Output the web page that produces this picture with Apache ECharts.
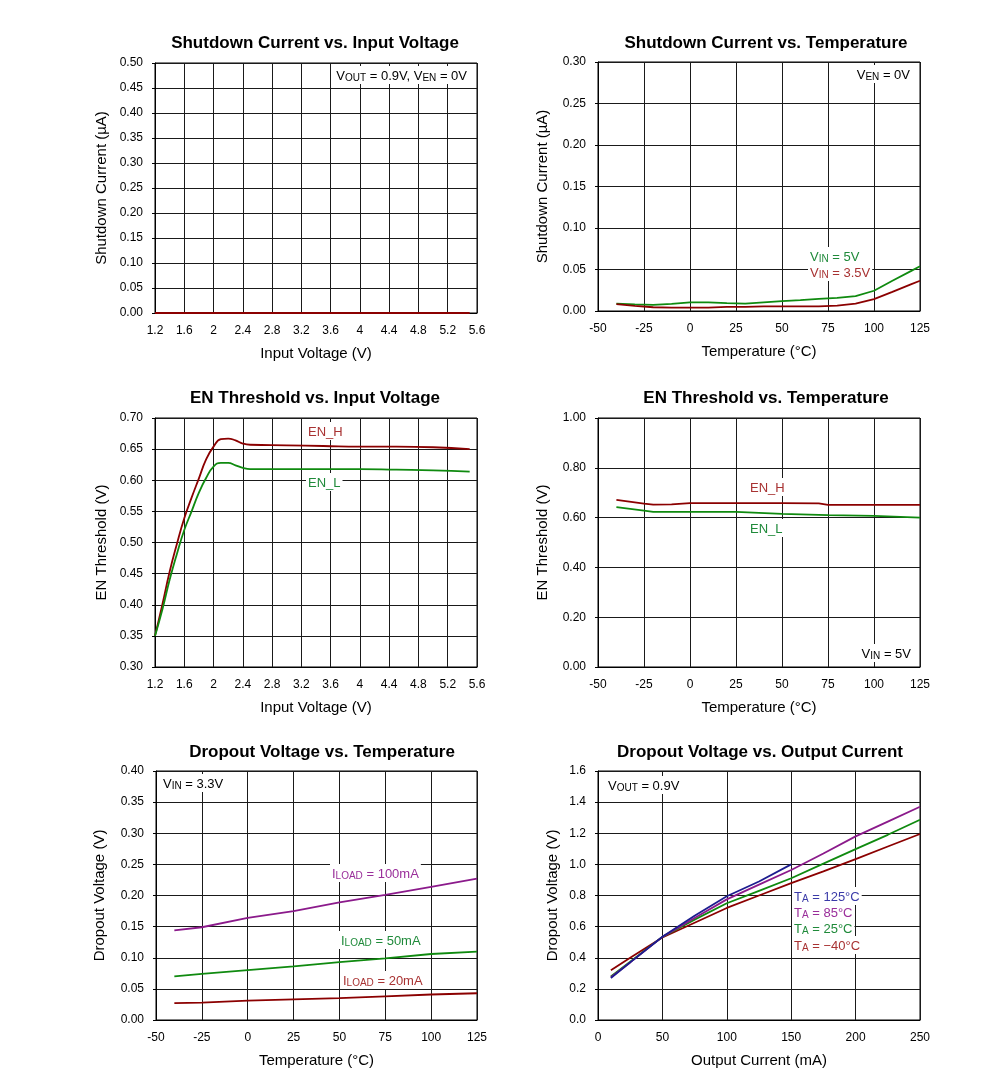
<!DOCTYPE html>
<html>
<head>
<meta charset="utf-8">
<script src="https://cdn.jsdelivr.net/npm/echarts@6/dist/echarts.min.js"></script>
<style>
html,body{margin:0;padding:0;background:#fff;}
#chart{width:991px;height:1082px;}
</style>
</head>
<body>
<div id="chart"></div>
<script>
// ---------- Data ----------
// Chart 1: Shutdown Current vs. Input Voltage
const sdVinX = [1.2, 1.6, 2.0, 2.4, 2.8, 3.2, 3.6, 4.0, 4.4, 4.8, 5.2, 5.5];
const sdVinI = [0, 0, 0, 0, 0, 0, 0, 0, 0, 0, 0, 0];

// Chart 2: Shutdown Current vs. Temperature
const sdTempX = [-40, -30, -20, -10, 0, 10, 20, 30, 40, 50, 60, 70, 80, 90, 100, 110, 120, 125];
const sdTemp5V = [0.009, 0.008, 0.0075, 0.0085, 0.0104, 0.0104, 0.0095, 0.009, 0.0105, 0.012, 0.013, 0.0145, 0.0158, 0.018, 0.0244, 0.0365, 0.048, 0.054];
const sdTemp35V = [0.0084, 0.0062, 0.0045, 0.004, 0.004, 0.004, 0.005, 0.005, 0.0055, 0.0055, 0.0055, 0.0056, 0.0065, 0.0088, 0.0144, 0.023, 0.032, 0.0364];

// Chart 3: EN Threshold vs. Input Voltage
const enVinX = [1.2, 1.3, 1.4, 1.5, 1.6, 1.7, 1.8, 1.9, 2.0, 2.1, 2.2, 2.3, 2.4, 2.5, 3.0, 3.5, 4.0, 4.5, 5.0, 5.5];
const enVinH = [0.35, 0.40, 0.453, 0.498, 0.539, 0.572, 0.603, 0.634, 0.654, 0.666, 0.667, 0.664, 0.659, 0.657, 0.656, 0.655, 0.654, 0.654, 0.653, 0.650];
const enVinL = [0.35, 0.392, 0.44, 0.482, 0.52, 0.55, 0.58, 0.604, 0.622, 0.628, 0.628, 0.624, 0.62, 0.618, 0.618, 0.618, 0.618, 0.617, 0.616, 0.614];

// Chart 4: EN Threshold vs. Temperature
const enTempX = [-40, -25, -20, -10, 0, 25, 50, 70, 75, 100, 125];
const enTempH = [0.671, 0.656, 0.652, 0.653, 0.658, 0.658, 0.658, 0.657, 0.651, 0.651, 0.651];
const enTempL = [0.642, 0.628, 0.623, 0.623, 0.623, 0.623, 0.615, 0.611, 0.610, 0.607, 0.600];

// Chart 5: Dropout Voltage vs. Temperature
const doTempX = [-40, -25, 0, 25, 50, 75, 100, 125];
const doTemp100 = [0.144, 0.149, 0.164, 0.175, 0.189, 0.201, 0.214, 0.227];
const doTemp50 = [0.070, 0.074, 0.080, 0.086, 0.093, 0.099, 0.106, 0.110];
const doTemp20 = [0.027, 0.028, 0.031, 0.033, 0.035, 0.038, 0.041, 0.043];

// Chart 6: Dropout Voltage vs. Output Current
const doIoutX = [10, 25, 50, 75, 100, 125, 150, 175, 200, 225, 250];
const doIout125 = [0.27, 0.37, 0.535, 0.67, 0.795, 0.89, 1.00];
const doIout85 = [0.275, 0.37, 0.534, 0.655, 0.775, 0.87, 0.964, 1.07, 1.18, 1.275, 1.37];
const doIout25 = [0.28, 0.375, 0.534, 0.645, 0.75, 0.83, 0.911, 1.005, 1.098, 1.19, 1.287];
const doIoutM40 = [0.32, 0.40, 0.53, 0.625, 0.72, 0.80, 0.879, 0.955, 1.034, 1.115, 1.195];

// ---------- Helpers ----------
const zip = (xs, ys) => ys.map((y, i) => [xs[i], y]);
const FONT = 'Liberation Sans, Arial, sans-serif';
const C_RED = '#8b0000', C_GREEN = '#0f8a0f', C_PURPLE = '#8b1a8b', C_BLUE = '#1c1c8f';
const T_RED = '#a83232', T_GREEN = '#1f8a3a', T_PURPLE = '#9a2e9a', T_BLUE = '#3a3aa8';

const grids = [
  {left: 155, top: 63, width: 322, height: 250},
  {left: 598, top: 62, width: 322, height: 249},
  {left: 155, top: 418, width: 322, height: 249},
  {left: 598, top: 418, width: 322, height: 249},
  {left: 156, top: 771, width: 321, height: 249},
  {left: 598, top: 771, width: 322, height: 249}
].map(g => Object.assign({show: true, borderColor: '#000', borderWidth: 1, containLabel: false}, g));

function xAx(gi, name, min, max, interval, fmt) {
  return {
    type: 'value', gridIndex: gi, min, max, interval, name,
    nameLocation: 'middle', nameGap: 33,
    nameTextStyle: {fontFamily: FONT, fontSize: 15, color: '#000'},
    axisLine: {show: true, onZero: false, lineStyle: {color: '#000', width: 1}},
    axisTick: {show: false},
    axisLabel: {fontFamily: FONT, fontSize: 12, color: '#000', margin: 12, formatter: fmt},
    splitLine: {show: true, lineStyle: {color: '#1a1a1a', width: 1}}
  };
}
function yAx(gi, name, min, max, interval, dec, gap) {
  return {
    type: 'value', gridIndex: gi, min, max, interval, name,
    nameLocation: 'middle', nameGap: gap,
    nameTextStyle: {fontFamily: FONT, fontSize: 15, color: '#000'},
    axisLine: {show: true, onZero: false, lineStyle: {color: '#000', width: 1}},
    axisTick: {show: true, length: 3, lineStyle: {color: '#000'}},
    axisLabel: {fontFamily: FONT, fontSize: 12, color: '#000', margin: 12, formatter: v => v.toFixed(dec)},
    splitLine: {show: true, lineStyle: {color: '#1a1a1a', width: 1}}
  };
}
const numFmt = v => String(Math.round(v * 100) / 100);

function line(gi, data, color, smooth) {
  return {
    type: 'line', xAxisIndex: gi, yAxisIndex: gi, data, showSymbol: false, symbol: 'none',
    smooth: smooth || false, lineStyle: {color, width: 1.8}, animation: false, silent: true
  };
}

function titleAt(text, x, y) {
  return {text, left: x, top: y, textAlign: 'center',
    textStyle: {fontFamily: FONT, fontSize: 17, fontWeight: 'bold', color: '#000'}};
}

const rich = (color) => ({
  n: {fontFamily: FONT, fontSize: 13, color, verticalAlign: 'bottom', lineHeight: 16},
  s: {fontFamily: FONT, fontSize: 10, color, verticalAlign: 'bottom', lineHeight: 14}
});
function note(x, y, text, color, align) {
  return {
    type: 'text', x, y, z: 100,
    style: {text, rich: rich(color), align: align || 'left', verticalAlign: 'middle',
      backgroundColor: '#fff', padding: [1, 2, 1, 2], fill: color, font: '13px ' + FONT}
  };
}

const option = {
  backgroundColor: '#fff',
  animation: false,
  title: [
    titleAt('Shutdown Current vs. Input Voltage', 310, 30),
    titleAt('Shutdown Current vs. Temperature', 761, 30),
    titleAt('EN Threshold vs. Input Voltage', 310, 385),
    titleAt('EN Threshold vs. Temperature', 761, 385),
    titleAt('Dropout Voltage vs. Temperature', 317, 739),
    titleAt('Dropout Voltage vs. Output Current', 755, 739)
  ],
  grid: grids,
  xAxis: [
    xAx(0, 'Input Voltage (V)', 1.2, 5.6, 0.4, numFmt),
    xAx(1, 'Temperature (°C)', -50, 125, 25, numFmt),
    xAx(2, 'Input Voltage (V)', 1.2, 5.6, 0.4, numFmt),
    xAx(3, 'Temperature (°C)', -50, 125, 25, numFmt),
    xAx(4, 'Temperature (°C)', -50, 125, 25, numFmt),
    xAx(5, 'Output Current (mA)', 0, 250, 50, numFmt)
  ],
  yAxis: [
    yAx(0, 'Shutdown Current (µA)', 0, 0.5, 0.05, 2, 46),
    yAx(1, 'Shutdown Current (µA)', 0, 0.3, 0.05, 2, 48),
    yAx(2, 'EN Threshold (V)', 0.3, 0.7, 0.05, 2, 46),
    yAx(3, 'EN Threshold (V)', 0, 1.0, 0.2, 2, 48),
    yAx(4, 'Dropout Voltage (V)', 0, 0.4, 0.05, 2, 49),
    yAx(5, 'Dropout Voltage (V)', 0, 1.6, 0.2, 1, 38)
  ],
  series: [
    line(0, zip(sdVinX, sdVinI), C_RED),
    line(1, zip(sdTempX, sdTemp5V), C_GREEN),
    line(1, zip(sdTempX, sdTemp35V), C_RED),
    line(2, zip(enVinX, enVinH), C_RED, 0.5),
    line(2, zip(enVinX, enVinL), C_GREEN, 0.5),
    line(3, zip(enTempX, enTempH), C_RED),
    line(3, zip(enTempX, enTempL), C_GREEN),
    line(4, zip(doTempX, doTemp100), C_PURPLE),
    line(4, zip(doTempX, doTemp50), C_GREEN),
    line(4, zip(doTempX, doTemp20), C_RED),
    line(5, zip(doIoutX, doIoutM40), C_RED),
    line(5, zip(doIoutX, doIout25), C_GREEN),
    line(5, zip(doIoutX, doIout85), C_PURPLE),
    line(5, zip(doIoutX, doIout125), C_BLUE)
  ],
  graphic: [
    note(469, 75, '{n|V}{s|OUT}{n| = 0.9V, V}{s|EN}{n| = 0V}', '#000', 'right'),
    note(912, 74, '{n|V}{s|EN}{n| = 0V}', '#000', 'right'),
    note(808, 256, '{n|V}{s|IN}{n| = 5V}', T_GREEN),
    note(808, 272, '{n|V}{s|IN}{n| = 3.5V}', T_RED),
    note(306, 431, '{n|EN_H}', T_RED),
    note(306, 482, '{n|EN_L}', T_GREEN),
    note(748, 487, '{n|EN_H}', T_RED),
    note(748, 528, '{n|EN_L}', T_GREEN),
    note(913, 653, '{n|V}{s|IN}{n| = 5V}', '#000', 'right'),
    note(161, 783, '{n|V}{s|IN}{n| = 3.3V}', '#000'),
    note(330, 873, '{n|I}{s|LOAD}{n| = 100mA}', T_PURPLE),
    note(339, 940, '{n|I}{s|LOAD}{n| = 50mA}', T_GREEN),
    note(341, 980, '{n|I}{s|LOAD}{n| = 20mA}', T_RED),
    note(606, 785, '{n|V}{s|OUT}{n| = 0.9V}', '#000'),
    note(792, 896, '{n|T}{s|A}{n| = 125°C}', T_BLUE),
    note(792, 912, '{n|T}{s|A}{n| = 85°C}', T_PURPLE),
    note(792, 928, '{n|T}{s|A}{n| = 25°C}', T_GREEN),
    note(792, 945, '{n|T}{s|A}{n| = −40°C}', T_RED)
  ]
};

const chart = echarts.init(document.getElementById('chart'), null, {renderer: 'canvas'});
chart.setOption(option);
</script>
</body>
</html>
